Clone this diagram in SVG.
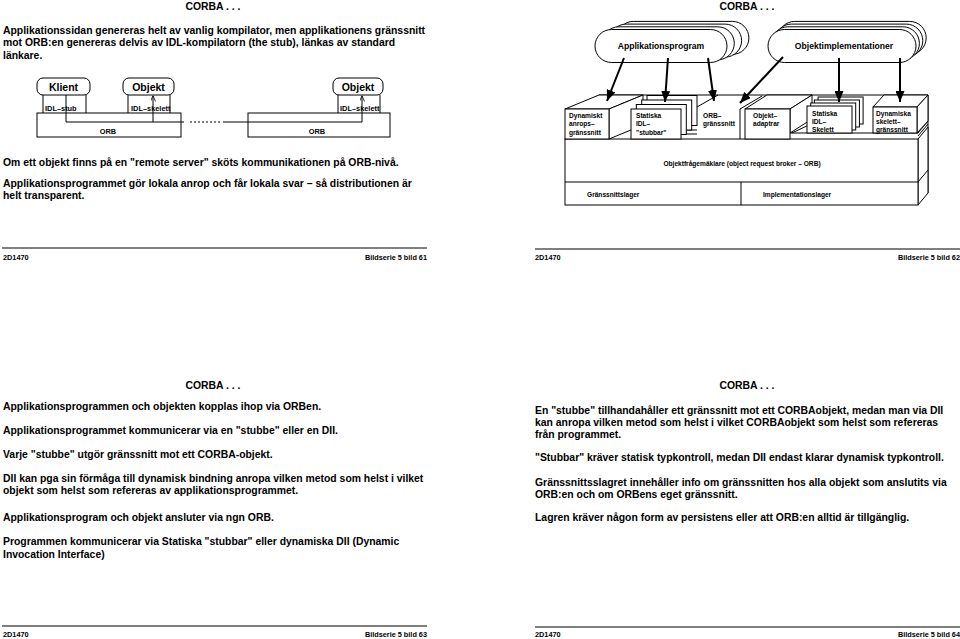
<svg xmlns="http://www.w3.org/2000/svg" width="960" height="639" viewBox="0 0 960 639">
<style>
text{font-family:"Liberation Sans",Arial,Helvetica,sans-serif;font-weight:bold;fill:#000}
.body{font-size:10.4px}
.ttl{font-size:10.4px}
.ft{font-size:7.3px}
.sm{font-size:6.6px}
.pl{font-size:8.6px}
.lb{font-size:10.5px}
.il{font-size:7.4px}
.ln{fill:none;stroke:#000;stroke-width:1}
.sh{fill:#fff;stroke:#000;stroke-width:1}
.rule{stroke:#555;stroke-width:1.3}
.arr{fill:none;stroke:#000;stroke-width:2;marker-end:url(#ah)}
.arr2{fill:none;stroke:#000;stroke-width:1;marker-end:url(#ah2)}
</style>
<defs>
<marker id="ah" markerUnits="userSpaceOnUse" markerWidth="11" markerHeight="9" refX="11" refY="4.5" orient="auto"><path d="M0,0 L11,4.5 L0,9 z" fill="#000"/></marker>
<marker id="ah2" markerUnits="userSpaceOnUse" markerWidth="6" markerHeight="5" refX="6" refY="2.5" orient="auto"><path d="M0,0 L6,2.5 L0,5" fill="none" stroke="#000" stroke-width="0.8"/></marker>
</defs>
<rect width="960" height="639" fill="#fff"/>

<!-- Slide 61 -->
<g id="slide61">
<text class="ttl" x="213" y="9.5" text-anchor="middle">CORBA . . .</text>
<text class="body" x="3" y="33.5">Applikationssidan genereras helt av vanlig kompilator, men applikationens gränssnitt</text>
<text class="body" x="3" y="46">mot ORB:en genereras delvis av IDL-kompilatorn (the stub), länkas av standard</text>
<text class="body" x="3" y="58.5">länkare.</text>
<g id="klient"><rect class="sh" x="37" y="78" width="53" height="17" rx="6"/><text class="lb" x="63.5" y="90.5" text-anchor="middle">Klient</text></g>
<g id="objekt1"><rect class="sh" x="123" y="78" width="51" height="17" rx="6"/><text class="lb" x="148.5" y="90.5" text-anchor="middle">Objekt</text></g>
<g id="objekt2"><rect class="sh" x="333" y="78" width="50" height="17" rx="6"/><text class="lb" x="358" y="90.5" text-anchor="middle">Objekt</text></g>
<g id="stub"><path class="ln" d="M43,95V113M86,95V113"/><text class="il" x="45" y="111">IDL–stub</text></g>
<g id="skel1"><path class="ln" d="M128,95V113M170,95V113"/><text class="il" x="131" y="111">IDL–skelett</text></g>
<g id="skel2"><path class="ln" d="M338,95V113M380,95V113"/><text class="il" x="340" y="111">IDL–skelett</text></g>
<g id="orb1"><rect class="ln" x="37" y="113" width="144" height="24"/><text class="il" x="108" y="134" text-anchor="middle">ORB</text></g>
<g id="orb2"><rect class="ln" x="248" y="113" width="142" height="24"/><text class="il" x="317" y="134" text-anchor="middle">ORB</text></g>
<g id="conn61">
<path class="arr2" d="M66,95V122H153V95.5"/>
<path class="ln" d="M153,122H184"/>
<path class="ln" d="M190,122H222" stroke-dasharray="2,2"/>
<path class="arr2" d="M223,122H362V95.5"/>
</g>
<text class="body" x="3" y="165.5">Om ett objekt finns på en "remote server" sköts kommunikationen på ORB-nivå.</text>
<text class="body" x="3" y="186.5">Applikationsprogrammet gör lokala anrop och får lokala svar – så distributionen är</text>
<text class="body" x="3" y="199">helt transparent.</text>
<line class="rule" x1="2" y1="248" x2="427" y2="248"/>
<text class="ft" x="3" y="259.5">2D1470</text>
<text class="ft" x="427" y="259.5" text-anchor="end">Bildserie 5 bild 61</text>
</g>

<!-- Slide 62 -->
<g id="slide62">
<text class="ttl" x="747" y="9.5" text-anchor="middle">CORBA . . .</text>
<g id="applikationsprogram">
<rect class="sh" x="616.9" y="21.4" width="132" height="33" rx="16.5"/>
<rect class="sh" x="609.6" y="24.1" width="132" height="33" rx="16.5"/>
<rect class="sh" x="602.3" y="26.8" width="132" height="33" rx="16.5"/>
<rect class="sh" x="595" y="29.5" width="132" height="33" rx="16.5"/>
<text class="pl" x="661" y="49" text-anchor="middle">Applikationsprogram</text>
</g>
<g id="objektimplementationer">
<rect class="sh" x="778.2" y="21.4" width="148" height="33" rx="16.5"/>
<rect class="sh" x="774.8" y="24.1" width="148" height="33" rx="16.5"/>
<rect class="sh" x="771.4" y="26.8" width="148" height="33" rx="16.5"/>
<rect class="sh" x="768" y="29.5" width="148" height="33" rx="16.5"/>
<text class="pl" x="844" y="49" text-anchor="middle">Objektimplementationer</text>
</g>
<g id="orbblock">
<path class="ln" d="M599,95H928V193"/>
<path class="ln" d="M697,107L718,95M740,109V139M740,109L762,96M682,130H697M682,134H697"/>
<path class="sh" d="M918,139L928,127V193L918,205z"/>
<path class="ln" d="M918,182L928,170M918,133L928,121M918,136L928,124M790,133H918M792,133L813,123"/>
<rect class="sh" x="565" y="139" width="353" height="66"/>
<path class="ln" d="M565,182H918M741,182V205"/>
<text class="sm" x="742" y="165.5" text-anchor="middle">Objektfrågemäklare (object request broker – ORB)</text>
<text class="sm" x="587" y="196.5">Gränssnittslager</text>
<text class="sm" x="763" y="196.5">Implementationslager</text>
</g>
<g id="dii">
<path class="sh" d="M565,109L599,95H643L609,109z"/>
<path class="sh" d="M609,109L643,95V125L609,139z"/>
<rect class="sh" x="565" y="109" width="44" height="30"/>
<text class="sm" x="569" y="117.5">Dynamiskt</text>
<text class="sm" x="569" y="126">anrops–</text>
<text class="sm" x="569" y="134.5">gränssnitt</text>
</g>
<g id="stubbar">
<rect class="sh" x="647" y="95.5" width="50" height="30"/>
<rect class="sh" x="641.7" y="100" width="50" height="30"/>
<rect class="sh" x="636.3" y="104.5" width="50" height="30"/>
<rect class="sh" x="631" y="109" width="50" height="30"/>
<text class="sm" x="636" y="117.5">Statiska</text>
<text class="sm" x="636" y="126">IDL–</text>
<text class="sm" x="636" y="134.5">"stubbar"</text>
</g>
<g id="orbgr">
<text class="sm" x="703" y="117.5">ORB–</text>
<text class="sm" x="703" y="126">gränssnitt</text>
</g>
<g id="adaptrar">
<path class="sh" d="M745,109L767,95H812L790,109z"/>
<path class="sh" d="M790,109L812,95V119L790,133z"/>
<rect class="sh" x="745" y="109" width="45" height="30"/>
<text class="sm" x="753" y="117.5">Objekt–</text>
<text class="sm" x="753" y="126">adaptrar</text>
</g>
<g id="skelett">
<rect class="sh" x="818.1" y="97" width="45" height="27"/>
<rect class="sh" x="814.4" y="100" width="45" height="27"/>
<rect class="sh" x="810.7" y="103" width="45" height="27"/>
<rect class="sh" x="807" y="106" width="45" height="27"/>
<text class="sm" x="812" y="115.5">Statiska</text>
<text class="sm" x="812" y="124">IDL–</text>
<text class="sm" x="812" y="132">Skelett</text>
</g>
<g id="dsi">
<path class="sh" d="M873,107L884,95H928L917,107z"/>
<path class="sh" d="M917,107L928,95V121L917,133z"/>
<rect class="sh" x="873" y="107" width="44" height="26"/>
<text class="sm" x="876" y="115.5">Dynamiska</text>
<text class="sm" x="876" y="124">skelett–</text>
<text class="sm" x="876" y="132">gränssnitt</text>
</g>
<g id="conn62">
<line class="arr" x1="624" y1="58" x2="607" y2="101"/>
<line class="arr" x1="668" y1="58" x2="665" y2="102"/>
<line class="arr" x1="708" y1="58" x2="714" y2="101"/>
<line class="arr" x1="783" y1="57" x2="740" y2="103"/>
<line class="arr" x1="839" y1="58" x2="839" y2="102"/>
<line class="arr" x1="900" y1="58" x2="900" y2="102"/>
</g>
<line class="rule" x1="535" y1="249" x2="960" y2="249"/>
<text class="ft" x="535" y="259.5">2D1470</text>
<text class="ft" x="960" y="259.5" text-anchor="end">Bildserie 5 bild 62</text>
</g>

<!-- Slide 63 -->
<g id="slide63">
<text class="ttl" x="213" y="388.5" text-anchor="middle">CORBA . . .</text>
<text class="body" x="3" y="409.5">Applikationsprogrammen och objekten kopplas ihop via ORBen.</text>
<text class="body" x="3" y="433.5">Applikationsprogrammet kommunicerar via en "stubbe" eller en DII.</text>
<text class="body" x="3" y="457.5">Varje "stubbe" utgör gränssnitt mot ett CORBA-objekt.</text>
<text class="body" x="3" y="481.5">DII kan pga sin förmåga till dynamisk bindning anropa vilken metod som helst i vilket</text>
<text class="body" x="3" y="494">objekt som helst som refereras av applikationsprogrammet.</text>
<text class="body" x="3" y="520.5">Applikationsprogram och objekt ansluter via ngn ORB.</text>
<text class="body" x="3" y="545">Programmen kommunicerar via Statiska "stubbar" eller dynamiska DII (Dynamic</text>
<text class="body" x="3" y="557.5">Invocation Interface)</text>
<line class="rule" x1="2" y1="626" x2="427" y2="626"/>
<text class="ft" x="3" y="637">2D1470</text>
<text class="ft" x="427" y="637" text-anchor="end">Bildserie 5 bild 63</text>
</g>

<!-- Slide 64 -->
<g id="slide64">
<text class="ttl" x="747" y="388.5" text-anchor="middle">CORBA . . .</text>
<text class="body" x="535" y="413.5">En "stubbe" tillhandahåller ett gränssnitt mot ett CORBAobjekt, medan man via DII</text>
<text class="body" x="535" y="425.5">kan anropa vilken metod som helst i vilket CORBAobjekt som helst som refereras</text>
<text class="body" x="535" y="437.5">från programmet.</text>
<text class="body" x="535" y="461">"Stubbar" kräver statisk typkontroll, medan DII endast klarar dynamisk typkontroll.</text>
<text class="body" x="535" y="485.5">Gränssnittsslagret innehåller info om gränssnitten hos alla objekt som anslutits via</text>
<text class="body" x="535" y="497.5">ORB:en och om ORBens eget gränssnitt.</text>
<text class="body" x="535" y="520.5">Lagren kräver någon form av persistens eller att ORB:en alltid är tillgänglig.</text>
<line class="rule" x1="535" y1="627" x2="960" y2="627"/>
<text class="ft" x="535" y="637">2D1470</text>
<text class="ft" x="960" y="637" text-anchor="end">Bildserie 5 bild 64</text>
</g>
</svg>
